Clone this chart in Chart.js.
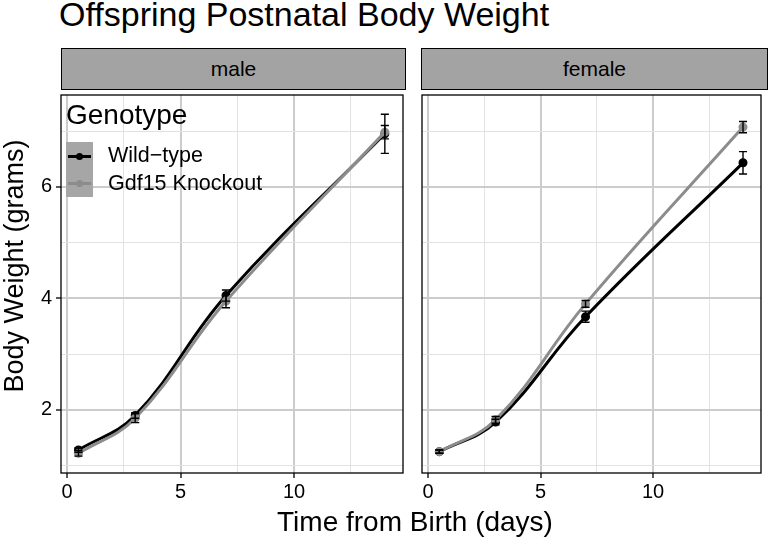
<!DOCTYPE html>
<html>
<head>
<meta charset="utf-8">
<script src="https://cdn.jsdelivr.net/npm/chart.js@4.4.0/dist/chart.umd.min.js"></script>
<style>
  body { margin: 0; background: #fff; font-family: "Liberation Sans", Arial, sans-serif; }
  #page { position: relative; width: 768px; height: 541px; overflow: hidden; }
  .abs { position: absolute; white-space: nowrap; }
  .strip { position: absolute; top: 48px; height: 42px; background: #a3a3a3; border: 1.3px solid #000;
           box-sizing: border-box; font-size: 21px; display: flex; align-items: center; justify-content: center; }
</style>
</head>
<body>
<div id="page">
  <div class="abs" style="left:59px;top:-3px;font-size:34px;line-height:34px;">Offspring Postnatal Body Weight</div>
  <div class="strip" style="left:61px;width:345px;">male</div>
  <div class="strip" style="left:421px;width:347px;">female</div>
  <canvas id="maleChart" class="abs" style="left:0;top:88px;" width="410" height="420"></canvas>
  <canvas id="femaleChart" class="abs" style="left:415px;top:88px;" width="353" height="420"></canvas>
  <!-- legend -->
  <div class="abs" style="left:66px;top:101px;font-size:28px;line-height:28px;">Genotype</div>
  <div class="abs" style="left:66px;top:142px;width:27px;height:55px;background:#a6a6a6;"></div>
  <div class="abs" style="left:68px;top:155px;width:23px;height:3px;background:#000;"></div>
  <div class="abs" style="left:76px;top:153px;width:7px;height:7px;border-radius:50%;background:#000;"></div>
  <div class="abs" style="left:68px;top:182px;width:23px;height:3px;background:#8c8c8c;"></div>
  <div class="abs" style="left:76px;top:180px;width:7px;height:7px;border-radius:50%;background:#8c8c8c;"></div>
  <div class="abs" style="left:108px;top:145px;font-size:21.5px;line-height:21.5px;">Wild&minus;type</div>
  <div class="abs" style="left:108px;top:173px;font-size:21.5px;line-height:21.5px;">Gdf15 Knockout</div>
  <!-- axis titles -->
  <div class="abs" style="left:115px;top:508px;width:600px;text-align:center;font-size:28px;line-height:28px;">Time from Birth (days)</div>
  <div class="abs" style="left:-136px;top:252px;width:300px;text-align:center;font-size:27px;line-height:28px;transform:rotate(-90deg);">Body Weight (grams)</div>
</div>
<script>
// days of measurement
var days = [0.5, 3, 7, 14];
var xTicks = [0, 5, 10];
var yTicks = [2, 4, 6];

// male body weights (grams) and error half widths
var maleWT = [1.28, 1.90, 4.05, 6.95];
var maleWTerr = [0.04, 0.05, 0.10, 0.35];
var maleKO = [1.22, 1.85, 3.95, 6.98];
var maleKOerr = [0.05, 0.08, 0.12, 0.12];

// female
var femaleWT = [1.25, 1.78, 3.67, 6.43];
var femaleWTerr = [0.03, 0.05, 0.10, 0.20];
var femaleKO = [1.25, 1.82, 3.90, 7.07];
var femaleKOerr = [0.03, 0.06, 0.06, 0.10];

var wtColor = '#000000';
var koColor = '#8c8c8c';

function pts(vals) {
    return days.map(function (d, i) { return { x: d, y: vals[i] }; });
}

// error bars drawn through the chart scales
var errorBars = {
    id: 'errorBars',
    afterDatasetsDraw: function (chart) {
        var ctx = chart.ctx;
        var xs = chart.scales.x, ys = chart.scales.y;
        ctx.save();
        ctx.strokeStyle = '#000';
        ctx.lineWidth = 1.4;
        chart.data.datasets.forEach(function (ds) {
            ds.data.forEach(function (p, i) {
                var e = ds.errors[i];
                var x = xs.getPixelForValue(p.x);
                var x0 = xs.getPixelForValue(p.x - 0.18), x1 = xs.getPixelForValue(p.x + 0.18);
                var yt = ys.getPixelForValue(p.y + e), yb = ys.getPixelForValue(p.y - e);
                ctx.beginPath();
                ctx.moveTo(x, yt); ctx.lineTo(x, yb);
                ctx.moveTo(x0, yt); ctx.lineTo(x1, yt);
                ctx.moveTo(x0, yb); ctx.lineTo(x1, yb);
                ctx.stroke();
            });
        });
        ctx.restore();
    }
};

var panelBorder = {
    id: 'panelBorder',
    afterDraw: function (chart) {
        var a = chart.chartArea, ctx = chart.ctx;
        ctx.save();
        ctx.strokeStyle = '#000';
        ctx.lineWidth = 1.3;
        ctx.strokeRect(a.left, a.top, a.right - a.left, a.bottom - a.top);
        ctx.restore();
    }
};

function makeChart(id, wt, wtErr, ko, koErr, showY, padding) {
    var ctx = document.getElementById(id).getContext('2d');
    return new Chart(ctx, {
        type: 'line',
        data: {
            datasets: [{
                label: 'Wild-type',
                data: pts(wt),
                errors: wtErr,
                borderColor: wtColor,
                backgroundColor: wtColor,
                borderWidth: 3,
                pointRadius: 3,
                tension: 0.4,
                order: 2
            },
            {
                label: 'Gdf15 Knockout',
                data: pts(ko),
                errors: koErr,
                borderColor: koColor,
                backgroundColor: koColor,
                borderWidth: 3,
                pointRadius: 3,
                tension: 0.4,
                order: 1
            }]
        },
        options: {
            responsive: false,
            animation: false,
            devicePixelRatio: 1,
            layout: { padding: padding },
            plugins: { legend: { display: false }, tooltip: { enabled: false } },
            scales: {
                x: {
                    type: 'linear',
                    min: -0.27,
                    max: 14.8,
                    afterFit: function (s) { s.height = 35; s.paddingLeft = 0; s.paddingRight = 0; },
                    border: { display: false },
                    grid: {
                        color: function (c) { return xTicks.indexOf(c.tick.value) >= 0 ? '#cccccc' : '#e2e2e2'; },
                        lineWidth: function (c) { return xTicks.indexOf(c.tick.value) >= 0 ? 2 : 1; },
                        tickColor: function (c) { return xTicks.indexOf(c.tick.value) >= 0 ? '#000' : 'rgba(0,0,0,0)'; },
                        tickWidth: 1.3,
                        tickLength: 5
                    },
                    ticks: {
                        stepSize: 2.5,
                        includeBounds: false,
                        maxRotation: 0,
                        autoSkip: false,
                        padding: 2,
                        color: '#000',
                        font: { family: 'Liberation Sans', size: 20 },
                        callback: function (v) { return xTicks.indexOf(v) >= 0 ? String(v) : ''; }
                    }
                },
                y: {
                    min: 0.867,
                    max: 7.646,
                    afterFit: function (s) { s.width = showY ? 61 : 0; s.paddingTop = 0; s.paddingBottom = 0; },
                    border: { display: false },
                    grid: {
                        color: function (c) { return yTicks.indexOf(c.tick.value) >= 0 ? '#cccccc' : '#e2e2e2'; },
                        lineWidth: function (c) { return yTicks.indexOf(c.tick.value) >= 0 ? 2 : 1; },
                        tickColor: function (c) { return showY && yTicks.indexOf(c.tick.value) >= 0 ? '#000' : 'rgba(0,0,0,0)'; },
                        tickWidth: 1.3,
                        tickLength: 5,
                        drawTicks: showY
                    },
                    ticks: {
                        display: showY,
                        stepSize: 1,
                        includeBounds: false,
                        padding: 4,
                        color: '#000',
                        font: { family: 'Liberation Sans', size: 20 },
                        callback: function (v) { return yTicks.indexOf(v) >= 0 ? String(v) : ''; }
                    }
                }
            }
        },
        plugins: [errorBars, panelBorder]
    });
}

var maleChart = makeChart('maleChart', maleWT, maleWTerr, maleKO, maleKOerr, true,
    { top: 2, right: 5, bottom: 0, left: 0 });
var femaleChart = makeChart('femaleChart', femaleWT, femaleWTerr, femaleKO, femaleKOerr, false,
    { top: 2, right: 1, bottom: 0, left: 6 });
</script>
</body>
</html>
